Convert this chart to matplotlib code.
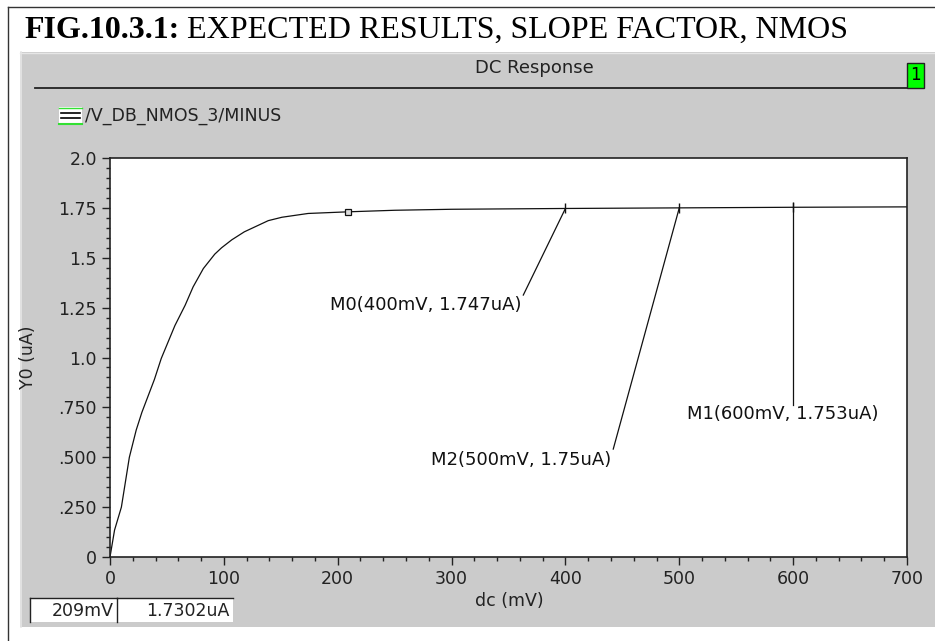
import matplotlib
matplotlib.use("Agg")
import matplotlib.pyplot as plt
from matplotlib.patches import Rectangle
from matplotlib.lines import Line2D

# -------------------------------
# Data
# -------------------------------
dc_mv = [0, 4, 10, 17, 23, 28, 33, 39, 45, 57, 66, 73, 82, 92, 98, 107,
         118, 139, 151, 174, 209, 250, 300, 400, 500, 600, 700]
y0_ua = [0, 0.135, 0.25, 0.50, 0.636, 0.725, 0.80, 0.89, 0.995, 1.16, 1.262,
         1.354, 1.446, 1.518, 1.550, 1.590, 1.630, 1.686, 1.703, 1.722, 1.7302,
         1.738, 1.743, 1.747, 1.750, 1.753, 1.755]

marker_names = ["M0", "M2", "M1"]
marker_x = [400, 500, 600]
marker_y = [1.747, 1.75, 1.753]
marker_text = ["M0(400mV, 1.747uA)", "M2(500mV, 1.75uA)", "M1(600mV, 1.753uA)"]

cursor_x = 209
cursor_y = 1.7302
cursor_text = ["209mV", "1.7302uA"]

x_ticks = [0, 100, 200, 300, 400, 500, 600, 700]
y_ticks = [0, 0.25, 0.5, 0.75, 1.0, 1.25, 1.5, 1.75, 2.0]
y_tick_labels = ["0", ".250", ".500", ".750", "1.0", "1.25", "1.5", "1.75", "2.0"]

signal_name = "/V_DB_NMOS_3/MINUS"

# -------------------------------
# Figure / frame
# -------------------------------
W, H = 935, 641
fig = plt.figure(figsize=(W / 100, H / 100), dpi=100)
fig.patch.set_facecolor("white")

def fx(x):
    return x / W

def fy(y):
    return 1 - y / H

gray = "#cbcbcb"

# outer border of the page
fig.add_artist(Line2D([fx(8), fx(8)], [fy(7), fy(641)], color="#333333", lw=1))
fig.add_artist(Line2D([fx(8), fx(935)], [fy(7), fy(7)], color="#333333", lw=1))

# gray window (behind the axes)
fig.add_artist(Rectangle((fx(20), fy(627)), fx(915), 575 / H,
                         facecolor=gray, edgecolor="none", zorder=-10))
fig.add_artist(Line2D([fx(21), fx(21)], [fy(52), fy(627)], color="#e6e6e6",
                      lw=1.2, zorder=-9))
fig.add_artist(Line2D([fx(20), fx(935)], [fy(53), fy(53)], color="#e6e6e6",
                      lw=1.0, zorder=-9))

# header
fig.text(fx(534), fy(68), "DC Response", fontsize=13, ha="center", va="center",
         color="#222222")
fig.add_artist(Line2D([fx(35), fx(907)], [fy(88), fy(88)], color="#222222", lw=1.3))
fig.add_artist(Rectangle((fx(907), fy(88)), 17 / W, 25 / H,
                         facecolor="#00ff00", edgecolor="#222222", lw=1))
fig.text(fx(915.5), fy(75.5), "1", fontsize=12, ha="center", va="center")

# legend entry
fig.add_artist(Rectangle((fx(59), fy(124)), 23 / W, 17 / H,
                         facecolor="white", edgecolor="none"))
fig.add_artist(Line2D([fx(59), fx(82)], [fy(123.5), fy(123.5)], color="#33e033", lw=1.5))
fig.add_artist(Line2D([fx(59), fx(82)], [fy(107.5), fy(107.5)], color="#33e033", lw=1.0))
fig.add_artist(Line2D([fx(61), fx(80)], [fy(113), fy(113)], color="black", lw=1.2))
fig.add_artist(Line2D([fx(61), fx(80)], [fy(118), fy(118)], color="black", lw=1.2))
fig.text(fx(85), fy(116), signal_name, fontsize=12.5, ha="left", va="center",
         color="#222222")

# -------------------------------
# Plot
# -------------------------------
ax = fig.add_axes([fx(110), fy(557), 797 / W, 399 / H])
ax.set_facecolor("white")

# title: bold figure number followed by regular text
t1 = fig.text(fx(24), fy(38), "FIG.10.3.1:", family="Liberation Serif",
              fontweight="bold", fontsize=23, va="baseline", ha="left")
ax.annotate(" EXPECTED RESULTS, SLOPE FACTOR, NMOS", xy=(1, 0),
            xycoords=t1, va="bottom", ha="left",
            family="Liberation Serif", fontsize=23, annotation_clip=False)

ax.plot(dc_mv, y0_ua, color="#111111", lw=0.9)

ax.set_xlim(0, 700)
ax.set_ylim(0, 2.0)
ax.set_xticks(x_ticks)
ax.set_xticks(range(0, 701, 20), minor=True)
ax.set_yticks(y_ticks)
ax.set_yticklabels(y_tick_labels)
ax.set_yticks([i * 0.05 for i in range(41)], minor=True)

for s in ax.spines.values():
    s.set_linewidth(1.2)
    s.set_color("#222222")

ax.tick_params(which="major", direction="out", length=5.5, width=1,
               labelsize=12.5, colors="#222222", pad=4)
ax.tick_params(which="minor", direction="out", length=3, width=1, colors="#222222")

ax.set_xlabel("dc (mV)", fontsize=12.5, color="#222222")
ax.xaxis.set_label_coords((509 - 110) / 797, (557 - 592) / 399)
ax.set_ylabel("Y0 (uA)", fontsize=12.5, color="#222222")
ax.yaxis.set_label_coords((37 - 110) / 797, 0.5)

# cursor square
ax.plot([cursor_x], [cursor_y], marker="s", ms=4.5, mfc="#dddddd", mec="#111111",
        mew=0.9, ls="none")

# markers with leader lines (layout positions of the labels in data units)
label_pos = [(361, 1.31), (440, 0.531), (507, 0.762)]
leader_end = [(363, 1.313), (442, 0.541), (600, 0.762)]
label_align = ["right", "right", "left"]

for i in range(len(marker_x)):
    ax.plot([marker_x[i]], [marker_y[i]], marker="|", ms=7.5, mew=1,
            color="#111111", ls="none")
    ax.plot([marker_x[i], leader_end[i][0]],
            [marker_y[i] + (0.02 if marker_names[i] == "M1" else 0), leader_end[i][1]],
            color="#111111", lw=0.9)
    ax.text(label_pos[i][0], label_pos[i][1], marker_text[i], fontsize=13,
            ha=label_align[i], va="top", color="#111111")

# -------------------------------
# Cursor readout boxes
# -------------------------------
boxes = [(30, 117), (117, 233)]
for (x0, x1), txt in zip(boxes, cursor_text):
    fig.add_artist(Rectangle((fx(x0), fy(622)), (x1 - x0) / W, 24 / H,
                             facecolor="white", edgecolor="none"))
    fig.add_artist(Line2D([fx(x0), fx(x1)], [fy(598), fy(598)], color="#222222", lw=1))
    fig.add_artist(Line2D([fx(x0), fx(x0)], [fy(598), fy(622)], color="#222222", lw=1))
    fig.text(fx(x1 - 3), fy(611), txt, fontsize=12.5, ha="right", va="center",
             color="#222222")

fig.savefig("out.png", dpi=100)
